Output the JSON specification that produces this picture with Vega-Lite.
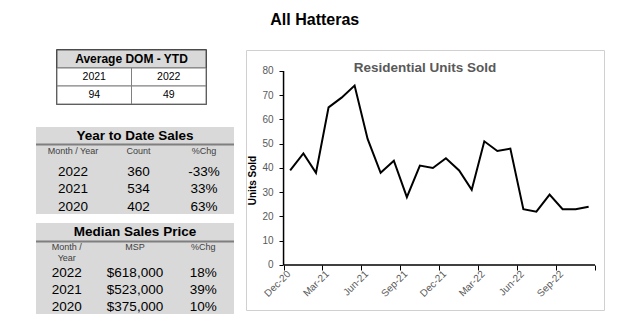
{
  "$schema": "https://vega.github.io/schema/vega-lite/v6.json",
  "padding": {"left": 35, "top": 11, "right": 23, "bottom": 19},
  "background": "white",
  "config": {
    "font": "Liberation Sans",
    "view": {"stroke": null},
    "locale": {"number": {"decimal": ".", "thousands": ",", "grouping": [3], "currency": ["$", ""], "minus": "-"}}
  },
  "title": {"text": "All Hatteras", "fontSize": 16, "fontWeight": "bold", "color": "black", "anchor": "middle", "offset": 21, "dx": -5, "baseline": "top"},
  "spacing": 10,
  "hconcat": [
    {
      "spacing": 21,
      "vconcat": [
        {
          "spacing": 10,
          "hconcat": [
            {"width": 9, "height": 54, "data": {"values": []}, "mark": "point", "encoding": {}},
            {
              "width": 149,
              "height": 54,
              "view": {"stroke": "black", "strokeWidth": 1.5},
              "data": {"values": [{"year": "2021", "dom": 94}, {"year": "2022", "dom": 49}]},
              "layer": [
                {
                  "data": {"values": [{"label": "Average DOM - YTD"}]},
                  "mark": {"type": "rect", "fill": "#d9d9d9", "stroke": "#595959", "strokeWidth": 1},
                  "encoding": {"y": {"datum": "hdr", "type": "nominal", "scale": {"type": "band", "domain": ["hdr", "y", "v"], "paddingInner": 0, "paddingOuter": 0}, "axis": null}}
                },
                {
                  "mark": {"type": "rect", "fill": "white", "stroke": "#808080", "strokeWidth": 1},
                  "encoding": {
                    "x": {"field": "year", "type": "nominal", "scale": {"type": "band", "domain": ["2021", "2022"], "paddingInner": 0, "paddingOuter": 0}, "axis": null},
                    "y": {"datum": "y", "type": "nominal", "scale": {"type": "band", "domain": ["hdr", "y", "v"], "paddingInner": 0, "paddingOuter": 0}, "axis": null}
                  }
                },
                {
                  "mark": {"type": "rect", "fill": "white", "stroke": "#808080", "strokeWidth": 1},
                  "encoding": {
                    "x": {"field": "year", "type": "nominal", "scale": {"type": "band", "domain": ["2021", "2022"], "paddingInner": 0, "paddingOuter": 0}, "axis": null},
                    "y": {"datum": "v", "type": "nominal", "scale": {"type": "band", "domain": ["hdr", "y", "v"], "paddingInner": 0, "paddingOuter": 0}, "axis": null}
                  }
                },
                {
                  "data": {"values": [{"label": "Average DOM - YTD"}]},
                  "mark": {"type": "text", "fontSize": 12, "fontWeight": "bold", "color": "black"},
                  "encoding": {
                    "y": {"datum": "hdr", "type": "nominal", "scale": {"type": "band", "domain": ["hdr", "y", "v"], "paddingInner": 0, "paddingOuter": 0}, "axis": null},
                    "text": {"field": "label"}
                  }
                },
                {
                  "mark": {"type": "text", "fontSize": 10.5, "color": "black"},
                  "encoding": {
                    "x": {"field": "year", "type": "nominal", "scale": {"type": "band", "domain": ["2021", "2022"], "paddingInner": 0, "paddingOuter": 0}, "axis": null},
                    "y": {"datum": "y", "type": "nominal", "scale": {"type": "band", "domain": ["hdr", "y", "v"], "paddingInner": 0, "paddingOuter": 0}, "axis": null},
                    "text": {"field": "year"}
                  }
                },
                {
                  "mark": {"type": "text", "fontSize": 10.5, "color": "black"},
                  "encoding": {
                    "x": {"field": "year", "type": "nominal", "scale": {"type": "band", "domain": ["2021", "2022"], "paddingInner": 0, "paddingOuter": 0}, "axis": null},
                    "y": {"datum": "v", "type": "nominal", "scale": {"type": "band", "domain": ["hdr", "y", "v"], "paddingInner": 0, "paddingOuter": 0}, "axis": null},
                    "text": {"field": "dom"}
                  }
                }
              ]
            }
          ]
        },
        {
          "spacing": 9,
          "vconcat": [
            {
              "width": 198,
              "height": 87,
              "view": {"fill": "#d9d9d9", "stroke": null},
              "data": {"values": [
                {"year": "2022", "count": 360, "chg": -0.33},
                {"year": "2021", "count": 534, "chg": 0.33},
                {"year": "2020", "count": 402, "chg": 0.63}
              ]},
              "layer": [
                {
                  "data": {"values": [{"t": "Year to Date Sales"}]},
                  "mark": {"type": "text", "fontSize": 13.5, "fontWeight": "bold", "color": "black", "dy": -1.4},
                  "encoding": {
                    "y": {"datum": "title", "type": "nominal", "scale": {"type": "point", "domain": ["title", "hdr", "2022", "2021", "2020"], "padding": 0.514, "align": 0.584}, "axis": null},
                    "text": {"field": "t"}
                  }
                },
                {
                  "data": {"values": [{"t": "Year to Date Sales"}]},
                  "mark": {"type": "rule", "color": "#7f7f7f", "strokeWidth": 2, "yOffset": 7},
                  "encoding": {
                    "y": {"datum": "title", "type": "nominal", "scale": {"type": "point", "domain": ["title", "hdr", "2022", "2021", "2020"], "padding": 0.514, "align": 0.584}, "axis": null}
                  }
                },
                {
                  "data": {"values": [{"col": "Month / Year"}, {"col": "Count"}, {"col": "%Chg"}]},
                  "mark": {"type": "text", "fontSize": 9, "color": "#404040", "dy": -3.7},
                  "encoding": {
                    "x": {"field": "col", "type": "nominal", "scale": {"type": "point", "domain": ["Month / Year", "Count", "%Chg"], "padding": 0.511, "align": 0.552}, "axis": null},
                    "y": {"datum": "hdr", "type": "nominal", "scale": {"type": "point", "domain": ["title", "hdr", "2022", "2021", "2020"], "padding": 0.514, "align": 0.584}, "axis": null},
                    "text": {"field": "col"}
                  }
                },
                {
                  "mark": {"type": "text", "fontSize": 13.5, "color": "black"},
                  "encoding": {
                    "x": {"datum": "Month / Year", "type": "nominal", "scale": {"type": "point", "domain": ["Month / Year", "Count", "%Chg"], "padding": 0.511, "align": 0.552}, "axis": null},
                    "y": {"field": "year", "type": "nominal", "scale": {"type": "point", "domain": ["title", "hdr", "2022", "2021", "2020"], "padding": 0.514, "align": 0.584}, "axis": null},
                    "text": {"field": "year"}
                  }
                },
                {
                  "mark": {"type": "text", "fontSize": 13.5, "color": "black"},
                  "encoding": {
                    "x": {"datum": "Count", "type": "nominal", "scale": {"type": "point", "domain": ["Month / Year", "Count", "%Chg"], "padding": 0.511, "align": 0.552}, "axis": null},
                    "y": {"field": "year", "type": "nominal", "scale": {"type": "point", "domain": ["title", "hdr", "2022", "2021", "2020"], "padding": 0.514, "align": 0.584}, "axis": null},
                    "text": {"field": "count"}
                  }
                },
                {
                  "mark": {"type": "text", "fontSize": 13.5, "color": "black"},
                  "encoding": {
                    "x": {"datum": "%Chg", "type": "nominal", "scale": {"type": "point", "domain": ["Month / Year", "Count", "%Chg"], "padding": 0.511, "align": 0.552}, "axis": null},
                    "y": {"field": "year", "type": "nominal", "scale": {"type": "point", "domain": ["title", "hdr", "2022", "2021", "2020"], "padding": 0.514, "align": 0.584}, "axis": null},
                    "text": {"field": "chg", "format": ".0%"}
                  }
                }
              ]
            },
            {
              "width": 198,
              "height": 91,
              "view": {"fill": "#d9d9d9", "stroke": null},
              "data": {"values": [
                {"year": "2022", "msp": 618000, "chg": 0.18},
                {"year": "2021", "msp": 523000, "chg": 0.39},
                {"year": "2020", "msp": 375000, "chg": 0.10}
              ]},
              "layer": [
                {
                  "data": {"values": [{"t": "Median Sales Price"}]},
                  "mark": {"type": "text", "fontSize": 13.5, "fontWeight": "bold", "color": "black", "dy": -7.5},
                  "encoding": {
                    "y": {"datum": "title", "type": "nominal", "scale": {"type": "point", "domain": ["title", "hdr", "2022", "2021", "2020"], "padding": 0.692, "align": 0.705}, "axis": null},
                    "text": {"field": "t"}
                  }
                },
                {
                  "data": {"values": [{"t": "Median Sales Price"}]},
                  "mark": {"type": "rule", "color": "#7f7f7f", "strokeWidth": 2, "yOffset": 2},
                  "encoding": {
                    "y": {"datum": "title", "type": "nominal", "scale": {"type": "point", "domain": ["title", "hdr", "2022", "2021", "2020"], "padding": 0.692, "align": 0.705}, "axis": null}
                  }
                },
                {
                  "data": {"values": [{"col": "Month / Year", "label": "Month /\n\u00a0\u00a0\u00a0\u00a0\u00a0\u00a0\u00a0\u00a0\u00a0Year"}, {"col": "MSP", "label": "MSP"}, {"col": "%Chg", "label": "%Chg"}]},
                  "mark": {"type": "text", "fontSize": 9, "color": "#404040", "baseline": "top", "dy": -12.9, "lineBreak": "\n", "lineHeight": 10.6},
                  "encoding": {
                    "x": {"field": "col", "type": "nominal", "scale": {"type": "point", "domain": ["Month / Year", "MSP", "%Chg"], "padding": 0.45, "align": 0.5}, "axis": null},
                    "y": {"datum": "hdr", "type": "nominal", "scale": {"type": "point", "domain": ["title", "hdr", "2022", "2021", "2020"], "padding": 0.692, "align": 0.705}, "axis": null},
                    "text": {"field": "label"}
                  }
                },
                {
                  "mark": {"type": "text", "fontSize": 13.5, "color": "black"},
                  "encoding": {
                    "x": {"datum": "Month / Year", "type": "nominal", "scale": {"type": "point", "domain": ["Month / Year", "MSP", "%Chg"], "padding": 0.45, "align": 0.5}, "axis": null},
                    "y": {"field": "year", "type": "nominal", "scale": {"type": "point", "domain": ["title", "hdr", "2022", "2021", "2020"], "padding": 0.692, "align": 0.705}, "axis": null},
                    "text": {"field": "year"}
                  }
                },
                {
                  "mark": {"type": "text", "fontSize": 13.5, "color": "black"},
                  "encoding": {
                    "x": {"datum": "MSP", "type": "nominal", "scale": {"type": "point", "domain": ["Month / Year", "MSP", "%Chg"], "padding": 0.45, "align": 0.5}, "axis": null},
                    "y": {"field": "year", "type": "nominal", "scale": {"type": "point", "domain": ["title", "hdr", "2022", "2021", "2020"], "padding": 0.692, "align": 0.705}, "axis": null},
                    "text": {"field": "msp", "format": "$,.0f"}
                  }
                },
                {
                  "mark": {"type": "text", "fontSize": 13.5, "color": "black"},
                  "encoding": {
                    "x": {"datum": "%Chg", "type": "nominal", "scale": {"type": "point", "domain": ["Month / Year", "MSP", "%Chg"], "padding": 0.45, "align": 0.5}, "axis": null},
                    "y": {"field": "year", "type": "nominal", "scale": {"type": "point", "domain": ["title", "hdr", "2022", "2021", "2020"], "padding": 0.692, "align": 0.705}, "axis": null},
                    "text": {"field": "chg", "format": ".0%"}
                  }
                }
              ]
            }
          ]
        }
      ]
    },
    {
      "width": 358,
      "height": 260,
      "view": {"stroke": "#d0d0d0", "strokeWidth": 1},
      "title": {"text": "Residential Units Sold", "fontSize": 13.5, "fontWeight": "bold", "color": "#595959", "anchor": "middle", "offset": -35, "baseline": "alphabetic"},
      "data": {"values": [
        {"month": "2020-12-01", "units": 39},
        {"month": "2021-01-01", "units": 46},
        {"month": "2021-02-01", "units": 38},
        {"month": "2021-03-01", "units": 65},
        {"month": "2021-04-01", "units": 69},
        {"month": "2021-05-01", "units": 74},
        {"month": "2021-06-01", "units": 52},
        {"month": "2021-07-01", "units": 38},
        {"month": "2021-08-01", "units": 43},
        {"month": "2021-09-01", "units": 28},
        {"month": "2021-10-01", "units": 41},
        {"month": "2021-11-01", "units": 40},
        {"month": "2021-12-01", "units": 44},
        {"month": "2022-01-01", "units": 39},
        {"month": "2022-02-01", "units": 31},
        {"month": "2022-03-01", "units": 51},
        {"month": "2022-04-01", "units": 47},
        {"month": "2022-05-01", "units": 48},
        {"month": "2022-06-01", "units": 23},
        {"month": "2022-07-01", "units": 22},
        {"month": "2022-08-01", "units": 29},
        {"month": "2022-09-01", "units": 23},
        {"month": "2022-10-01", "units": 23},
        {"month": "2022-11-01", "units": 24}
      ]},
      "layer": [
        {
          "mark": {"type": "line", "color": "black", "strokeWidth": 2},
          "encoding": {
            "x": {
              "field": "month", "timeUnit": "utcyearmonth", "type": "temporal", "bandPosition": 0.5,
              "scale": {"type": "utc", "domain": [{"year": 2020, "month": 9, "date": 4, "utc": true}, {"year": 2022, "month": 12, "date": 22, "utc": true}], "nice": false},
              "axis": {
                "title": null, "domain": false, "grid": false, "offset": -45,
                "values": [
                  {"year": 2020, "month": 12, "date": 1, "utc": true},
                  {"year": 2021, "month": 3, "date": 1, "utc": true},
                  {"year": 2021, "month": 6, "date": 1, "utc": true},
                  {"year": 2021, "month": 9, "date": 1, "utc": true},
                  {"year": 2021, "month": 12, "date": 1, "utc": true},
                  {"year": 2022, "month": 3, "date": 1, "utc": true},
                  {"year": 2022, "month": 6, "date": 1, "utc": true},
                  {"year": 2022, "month": 9, "date": 1, "utc": true},
                  {"year": 2022, "month": 12, "date": 1, "utc": true}
                ],
                "labelExpr": "datum.index >= 0.99 ? '' : utcFormat(datum.value, '%b-%y')",
                "labelAngle": -45, "labelAlign": "right", "labelBaseline": "middle",
                "labelColor": "#595959", "labelFontSize": 10, "labelPadding": 2, "labelOffset": 5,
                "tickColor": "black", "tickSize": 5, "tickWidth": 1, "labelOverlap": false, "labelFlush": false
              }
            },
            "y": {
              "field": "units", "type": "quantitative",
              "scale": {"domain": [-18.56, 88.66], "nice": false, "zero": false},
              "axis": {
                "title": "Units Sold", "titleFontSize": 10, "titleFontWeight": "bold", "titleColor": "black", "titlePadding": 4,
                "domain": false, "grid": false, "offset": -37,
                "values": [0, 10, 20, 30, 40, 50, 60, 70, 80],
                "labelColor": "#595959", "labelFontSize": 10, "labelPadding": 6, "labelOverlap": false, "labelFlush": false,
                "tickColor": "black", "tickSize": 4, "tickWidth": 1
              }
            }
          }
        },
        {
          "data": {"values": [{"axis": "y"}]},
          "mark": {"type": "rule", "color": "black", "strokeWidth": 1.5},
          "encoding": {
            "x": {"datum": {"year": 2020, "month": 12, "date": 1, "utc": true}, "type": "temporal"},
            "y": {
              "datum": 0, "type": "quantitative",
              "axis": {
                "title": "Units Sold", "titleFontSize": 10, "titleFontWeight": "bold", "titleColor": "black", "titlePadding": 4,
                "domain": false, "grid": false, "offset": -37,
                "values": [0, 10, 20, 30, 40, 50, 60, 70, 80],
                "labelColor": "#595959", "labelFontSize": 10, "labelPadding": 6, "labelOverlap": false, "labelFlush": false,
                "tickColor": "black", "tickSize": 4, "tickWidth": 1
              }
            },
            "y2": {"datum": 80}
          }
        },
        {
          "data": {"values": [{"axis": "x"}]},
          "mark": {"type": "rule", "color": "black", "strokeWidth": 1.5},
          "encoding": {
            "y": {
              "datum": 0, "type": "quantitative",
              "axis": {
                "title": "Units Sold", "titleFontSize": 10, "titleFontWeight": "bold", "titleColor": "black", "titlePadding": 4,
                "domain": false, "grid": false, "offset": -37,
                "values": [0, 10, 20, 30, 40, 50, 60, 70, 80],
                "labelColor": "#595959", "labelFontSize": 10, "labelPadding": 6, "labelOverlap": false, "labelFlush": false,
                "tickColor": "black", "tickSize": 4, "tickWidth": 1
              }
            },
            "x": {"datum": {"year": 2020, "month": 12, "date": 1, "utc": true}, "type": "temporal"},
            "x2": {"datum": {"year": 2022, "month": 12, "date": 1, "utc": true}}
          }
        }
      ]
    }
  ]
}
